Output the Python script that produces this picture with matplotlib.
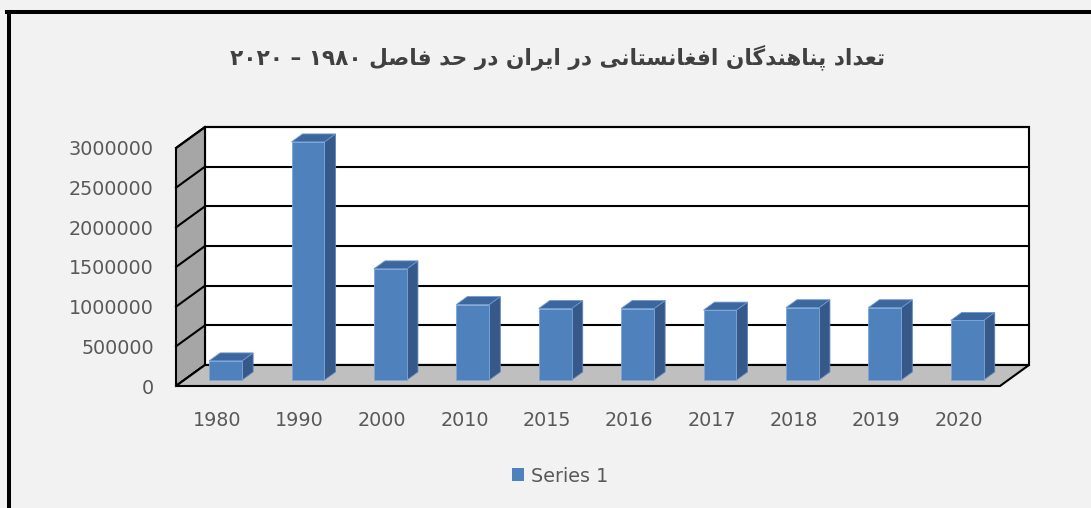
import matplotlib
matplotlib.use("Agg")
import matplotlib.pyplot as plt
from matplotlib.patches import Polygon, Patch

# 数据
years = ["1980", "1990", "2000", "2010", "2015", "2016", "2017", "2018", "2019", "2020"]
refugees = [240000, 3000000, 1400000, 950000, 900000, 900000, 880000, 910000, 910000, 750000]
y_ticks = [0, 500000, 1000000, 1500000, 2000000, 2500000, 3000000]
series_name = "Series 1"
title_fa = "تعداد پناهندگان افغانستانی در ایران در حد فاصل ۱۹۸۰ – ۲۰۲۰"

# 阿拉伯字母连写形式: 独立, 词尾, 词首, 词中
FORMS = {
    "ا": ("\uFE8D", "\uFE8E", None, None),
    "د": ("\uFEA9", "\uFEAA", None, None),
    "ر": ("\uFEAD", "\uFEAE", None, None),
    "پ": ("\uFB56", "\uFB57", "\uFB58", "\uFB59"),
    "ت": ("\uFE95", "\uFE96", "\uFE97", "\uFE98"),
    "ح": ("\uFEA1", "\uFEA2", "\uFEA3", "\uFEA4"),
    "س": ("\uFEB1", "\uFEB2", "\uFEB3", "\uFEB4"),
    "ص": ("\uFEB9", "\uFEBA", "\uFEBB", "\uFEBC"),
    "ع": ("\uFEC9", "\uFECA", "\uFECB", "\uFECC"),
    "غ": ("\uFECD", "\uFECE", "\uFECF", "\uFED0"),
    "ف": ("\uFED1", "\uFED2", "\uFED3", "\uFED4"),
    "ل": ("\uFEDD", "\uFEDE", "\uFEDF", "\uFEE0"),
    "ن": ("\uFEE5", "\uFEE6", "\uFEE7", "\uFEE8"),
    "ه": ("\uFEE9", "\uFEEA", "\uFEEB", "\uFEEC"),
    "گ": ("\uFB92", "\uFB93", "\uFB94", "\uFB95"),
    "ی": ("\uFBFC", "\uFBFD", "\uFBFE", "\uFBFF"),
}


def shape_word(w):
    out = []
    for i, c in enumerate(w):
        if c not in FORMS:
            out.append(c)
            continue
        prev = i > 0 and w[i - 1] in FORMS and FORMS[w[i - 1]][2] is not None
        nxt = i < len(w) - 1 and w[i + 1] in FORMS and FORMS[c][2] is not None
        iso, fin, ini, med = FORMS[c]
        if prev and nxt:
            out.append(med)
        elif prev:
            out.append(fin)
        elif nxt:
            out.append(ini)
        else:
            out.append(iso)
    return "".join(reversed(out))


def to_visual(text):
    tokens = []
    for t in text.split(" "):
        if any(c in FORMS for c in t):
            tokens.append(shape_word(t))
        else:
            tokens.append(t)
    return " ".join(reversed(tokens))


fig = plt.figure(figsize=(10.91, 5.08), dpi=100)
fig.patch.set_facecolor("#f2f2f2")

W, H = 1091, 508
ax = fig.add_axes([176 / W, 1 - 386 / H, 824 / W, 238 / H])
ax.patch.set_visible(False)
for s in ax.spines.values():
    s.set_visible(False)

n = len(years)
ymax = y_ticks[-1]
ax.set_xlim(0, n)
ax.set_ylim(0, ymax)

# 景深偏移 (数据单位)
DX = 29 * n / 824
DY = 21 * ymax / 238

edge = dict(edgecolor="black", linewidth=1.5, clip_on=False)

# 后墙
ax.add_patch(Polygon([(DX, DY), (n + DX, DY), (n + DX, ymax + DY), (DX, ymax + DY)],
                     facecolor="white", zorder=1, **edge))
# 左墙
ax.add_patch(Polygon([(0, 0), (DX, DY), (DX, ymax + DY), (0, ymax)],
                     facecolor="#a6a6a6", zorder=1, **edge))
for v in y_ticks:
    ax.plot([DX, n + DX], [v + DY, v + DY], color="black", lw=1.5, zorder=2, clip_on=False)
    ax.plot([0, DX], [v, v + DY], color="black", lw=1.5, zorder=2, clip_on=False)
# 地面
ax.add_patch(Polygon([(0, 0), (n, 0), (n + DX, DY), (DX, DY)],
                     facecolor="#bfbfbf", zorder=3, **edge))

# 柱子
d0, d1 = 0.29, 0.67
bw = 0.40
xs = [i + 0.5 + DX * d0 for i in range(n)]
ax.bar(xs, refugees, width=bw, bottom=DY * d0, color="#4f81bd",
       edgecolor="#7ea6d8", linewidth=0.6, zorder=5, clip_on=False)
ddx, ddy = DX * (d1 - d0), DY * (d1 - d0)
for x, v in zip(xs, refugees):
    xl, xr = x - bw / 2, x + bw / 2
    b, t = DY * d0, DY * d0 + v
    ax.add_patch(Polygon([(xr, b), (xr + ddx, b + ddy), (xr + ddx, t + ddy), (xr, t)],
                         facecolor="#36598a", edgecolor="#5b84bb", linewidth=0.6,
                         zorder=4, clip_on=False))
    ax.add_patch(Polygon([(xl, t), (xr, t), (xr + ddx, t + ddy), (xl + ddx, t + ddy)],
                         facecolor="#3c679e", edgecolor="#6f98cf", linewidth=0.6,
                         zorder=4, clip_on=False))

ax.set_yticks(y_ticks)
ax.set_yticklabels([str(v) for v in y_ticks])
ax.set_xticks([i + 0.5 for i in range(n)])
ax.set_xticklabels(years)
ax.tick_params(axis="y", length=0, pad=16, labelsize=13.8, labelcolor="#595959")
ax.tick_params(axis="x", length=0, pad=18, labelsize=13.8, labelcolor="#595959")

fig.legend(handles=[Patch(facecolor="#4f81bd")], labels=[series_name],
           loc="center", bbox_to_anchor=(560 / W, 1 - 476 / H), frameon=False,
           fontsize=13.8, labelcolor="#595959", handlelength=0.65, handleheight=0.65,
           handletextpad=0.35)

fig.text(558 / W, 1 - 57 / H, to_visual(title_fa), ha="center", va="center",
         fontsize=15.6, fontweight="bold", color="#404040", family="DejaVu Sans")

# 外框
fig.add_artist(plt.Line2D([9 / W, 9 / W], [0, 1 - 11.5 / H], transform=fig.transFigure,
                          color="black", lw=2.9))
fig.add_artist(plt.Line2D([7 / W, 1], [1 - 11.5 / H, 1 - 11.5 / H], transform=fig.transFigure,
                          color="black", lw=2.9))

fig.savefig("out.png", dpi=100, facecolor=fig.get_facecolor())
